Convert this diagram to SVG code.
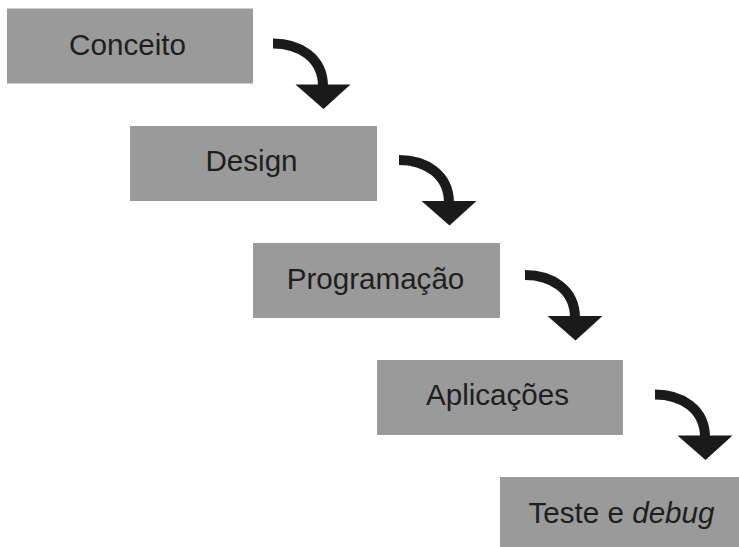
<svg xmlns="http://www.w3.org/2000/svg" width="739" height="547" viewBox="0 0 739 547">
  <style>
    .box { fill: #9a9a9a; }
    .label { font-family: "Liberation Sans", Arial, sans-serif; font-size: 29.6px; fill: #1e1e1e; text-anchor: middle; }
    .curve { fill: none; stroke: #1a1a1a; stroke-width: 10; }
    .head { fill: #1a1a1a; }
  </style>
  <defs>
    <!-- curved arrow, origin at the tail -->
    <g id="bend">
      <path class="curve" d="M0,0 C26,0 50,14 50,43"/>
      <polygon class="head" points="22.5,41 77.5,41 50.5,65.5"/>
    </g>
  </defs>

  <g id="n1">
    <rect class="box" x="7" y="8.5" width="246" height="75"/>
    <text class="label" x="127.5" y="55">Conceito</text>
  </g>
  <g id="n2">
    <rect class="box" x="130" y="126" width="247" height="75"/>
    <text class="label" x="251.5" y="171">Design</text>
  </g>
  <g id="n3">
    <rect class="box" x="253" y="243" width="247" height="75"/>
    <text class="label" x="375.5" y="288.5">Programação</text>
  </g>
  <g id="n4">
    <rect class="box" x="377" y="360" width="246" height="75"/>
    <text class="label" x="497.5" y="405">Aplicações</text>
  </g>
  <g id="n5">
    <rect class="box" x="500" y="477" width="239" height="70"/>
    <text class="label" x="621.5" y="523">Teste e <tspan font-style="italic">debug</tspan></text>
  </g>

  <g id="connectors">
    <use href="#bend" x="273" y="43.5"/>
    <use href="#bend" x="399" y="160"/>
    <use href="#bend" x="525" y="275"/>
    <use href="#bend" x="655" y="394.5"/>
  </g>
</svg>
